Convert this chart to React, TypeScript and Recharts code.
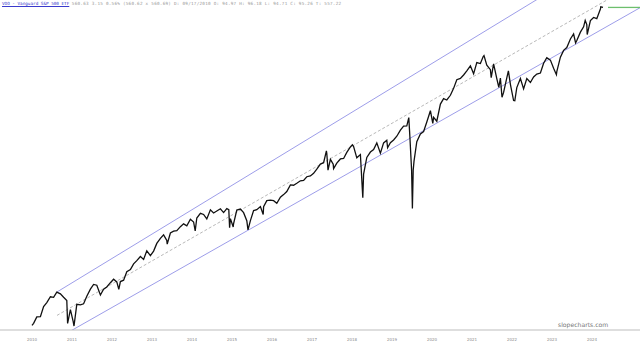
import React from "react";
import { LineChart, Line, XAxis, YAxis } from "recharts";

// VOO daily chart (dividend adjusted), roughly monthly plus swing highs/lows
const priceSeries: [number, number][] = [
  [2010.71, 79.0], [2010.75, 80.0], [2010.83, 83.2], [2010.92, 83.4], [2011.0, 88.7],
  [2011.08, 90.9], [2011.17, 94.2], [2011.25, 93.9], [2011.33, 96.9], [2011.42, 95.9], [2011.5, 93.9],
  [2011.58, 92.1], [2011.6, 80.0], [2011.67, 87.0], [2011.74, 80.9], [2011.76, 78.7], [2011.83, 89.9],
  [2011.92, 89.6], [2012.0, 90.2],
  [2012.08, 94.5], [2012.17, 98.7], [2012.25, 101.6], [2012.33, 101.1], [2012.42, 95.2], [2012.5, 98.7],
  [2012.58, 100.0], [2012.67, 102.7], [2012.75, 104.9], [2012.83, 103.2], [2012.88, 98.6], [2012.92, 103.4],
  [2013.0, 104.3],
  [2013.08, 109.8], [2013.17, 111.3], [2013.25, 115.3], [2013.33, 117.6], [2013.42, 120.6], [2013.5, 118.5],
  [2013.58, 124.9], [2013.67, 121.3], [2013.75, 124.7], [2013.83, 130.7], [2013.92, 134.8], [2014.0, 137.8],
  [2014.08, 133.2], [2014.09, 130.2], [2014.17, 139.4], [2014.25, 140.9], [2014.33, 141.4], [2014.42, 144.9],
  [2014.5, 147.4], [2014.58, 145.7], [2014.67, 151.6], [2014.75, 149.1], [2014.79, 141.1], [2014.83, 152.8],
  [2014.92, 157.3], [2015.0, 156.2],
  [2015.08, 151.9], [2015.17, 160.7], [2015.25, 157.6], [2015.33, 159.5], [2015.42, 161.7], [2015.5, 158.0],
  [2015.58, 161.8], [2015.63, 160.8], [2015.65, 144.0], [2015.67, 152.2], [2015.74, 144.6], [2015.75, 147.7],
  [2015.83, 160.5], [2015.92, 161.4], [2016.0, 157.9],
  [2016.08, 150.3], [2016.11, 142.0], [2016.17, 150.4], [2016.25, 159.9], [2016.33, 160.8], [2016.42, 163.9],
  [2016.49, 156.1], [2016.5, 163.8], [2016.58, 170.0], [2016.67, 170.5], [2016.75, 169.9], [2016.83, 167.3],
  [2016.92, 173.7], [2017.0, 176.4],
  [2017.08, 179.8], [2017.17, 187.3], [2017.25, 186.9], [2017.33, 189.1], [2017.42, 192.0], [2017.5, 192.6],
  [2017.58, 196.9], [2017.67, 197.8], [2017.75, 201.1], [2017.83, 206.2], [2017.92, 212.8], [2018.0, 214.6],
  [2018.07, 230.7], [2018.08, 227.1], [2018.11, 205.0], [2018.17, 219.1], [2018.24, 212.7], [2018.25, 207.0],
  [2018.33, 214.1], [2018.42, 219.6], [2018.5, 220.2], [2018.58, 228.7], [2018.67, 236.4], [2018.72, 239.5],
  [2018.75, 237.1], [2018.83, 221.1], [2018.92, 225.6], [2018.98, 173.0], [2019.0, 200.0],
  [2019.08, 221.6], [2019.17, 229.1], [2019.25, 232.6], [2019.33, 242.4], [2019.42, 227.4], [2019.5, 242.4],
  [2019.58, 246.4], [2019.6, 235.3], [2019.67, 242.7], [2019.75, 246.8], [2019.83, 252.5], [2019.92, 262.0],
  [2020.0, 268.8],
  [2020.08, 269.0], [2020.13, 283.2], [2020.16, 248.2], [2020.2, 205.0], [2020.22, 162.0], [2020.24, 205.0],
  [2020.26, 216.3], [2020.33, 244.1],
  [2020.42, 256.1], [2020.5, 259.9], [2020.58, 275.6], [2020.67, 295.4], [2020.73, 273.2], [2020.75, 283.6],
  [2020.83, 276.9], [2020.92, 307.6], [2021.0, 318.2],
  [2021.08, 315.4], [2021.17, 324.7], [2021.25, 338.8], [2021.33, 357.4], [2021.42, 360.2], [2021.5, 367.8],
  [2021.58, 377.3], [2021.67, 389.2], [2021.75, 370.4], [2021.83, 397.1], [2021.92, 394.6], [2021.99, 411.8],
  [2022.01, 414.2],
  [2022.08, 390.9], [2022.17, 379.9], [2022.19, 362.0], [2022.25, 393.6], [2022.33, 359.7], [2022.38, 340.7],
  [2022.42, 361.1], [2022.46, 320.9], [2022.5, 330.5], [2022.58, 361.5], [2022.62, 377.3], [2022.67, 347.3],
  [2022.75, 314.4], [2022.78, 314.0], [2022.83, 340.5], [2022.92, 360.0], [2023.0, 337.8],
  [2023.08, 359.8], [2023.17, 351.3], [2023.25, 363.5], [2023.33, 369.8], [2023.42, 372.3], [2023.5, 395.4],
  [2023.58, 409.0], [2023.67, 403.0], [2023.75, 383.1], [2023.82, 368.6], [2023.83, 375.4], [2023.92, 410.3],
  [2024.0, 427.9],
  [2024.08, 435.4], [2024.17, 458.8], [2024.25, 473.1], [2024.3, 448.2], [2024.33, 454.7], [2024.42, 478.5],
  [2024.5, 494.5], [2024.54, 514.3], [2024.58, 501.2], [2024.59, 471.4], [2024.67, 513.8], [2024.75, 523.8],
  [2024.83, 519.8], [2024.92, 551.7], [2024.93, 559.0], [2024.985, 557.0],
];

// regression channel drawn on the chart (start / end points)
const upperChannel: [number, number][] = [[2011.335, 97.0], [2025.91, 860]];
const midChannel: [number, number][] = [[2011.335, 84.0], [2025.91, 655]];
const lowerChannel: [number, number][] = [[2011.335, 72.8], [2025.91, 556]];
const lastPrice: [number, number][] = [[2025.11, 557.0], [2025.91, 557.0]];

const yearLabels = ["2010", "2011", "2012", "2013", "2014", "2015", "2016", "2017", "2018", "2019", "2020", "2021", "2022", "2023", "2024"];
const firstBar = 2010.71;
const priceTicks = [100, 150, 200, 250, 300, 350, 400, 450, 500];

const toRows = (pts: [number, number][]) => pts.map(([d, p]) => ({ d, p }));

const headerLink = "VOO - Vanguard S&P 500 ETF";
const headerText = "560.63 3.15 0.56% (560.62 x 560.69) D: 09/17/2010 O: 94.97 H: 96.18 L: 94.71 C: 95.26 T: 557.22";

export default function App() {
  const xTicks = yearLabels.map((_, i) => firstBar + i);

  return (
    <div style={{ position: "absolute", left: 0, top: 0, width: 640, height: 341, background: "#fff", overflow: "hidden" }}>
      <LineChart width={640} height={341} margin={{ top: 0, right: 0, bottom: 0, left: 0 }}>
        <XAxis
          type="number"
          dataKey="d"
          domain={[2009.91, 2025.91]}
          allowDataOverflow
          ticks={xTicks}
          tickFormatter={(v: number) => String(Math.floor(v))}
          height={11}
          tickLine={false}
          axisLine={{ stroke: "#bdbdbd", strokeWidth: 1 }}
          tick={{ fontSize: 4, fill: "#8a8a8a", fontFamily: "DejaVu Sans" }}
          tickMargin={2}
        />
        <YAxis
          type="number"
          scale="log"
          orientation="right"
          mirror
          width={0}
          domain={[76.8, 583]}
          allowDataOverflow
          ticks={priceTicks}
          tickLine={false}
          axisLine={false}
          tick={{ fontSize: 4, fill: "#8a8a8a", fontFamily: "DejaVu Sans" }}
          tickMargin={3}
        />
        <Line data={toRows(upperChannel)} dataKey="p" stroke="#7373e0" strokeWidth={0.7} dot={false} activeDot={false} isAnimationActive={false} />
        <Line data={toRows(midChannel)} dataKey="p" stroke="#9a9a9a" strokeWidth={0.7} strokeDasharray="3 2" dot={false} activeDot={false} isAnimationActive={false} />
        <Line data={toRows(lowerChannel)} dataKey="p" stroke="#7373e0" strokeWidth={0.7} dot={false} activeDot={false} isAnimationActive={false} />
        <Line data={toRows(priceSeries)} dataKey="p" stroke="#111" strokeWidth={1.3} dot={false} activeDot={false} isAnimationActive={false} />
        <Line data={toRows(lastPrice)} dataKey="p" stroke="#6dbf6d" strokeWidth={1.3} dot={false} activeDot={false} isAnimationActive={false} />
      </LineChart>
      <div style={{ position: "absolute", left: 2, top: 2, fontFamily: "DejaVu Sans Mono", fontSize: 4.3, color: "#999", whiteSpace: "nowrap", lineHeight: 1 }}>
        <span style={{ color: "#3a3acc", textDecoration: "underline" }}>{headerLink}</span>{" "}
        <span style={{ letterSpacing: 0.25 }}>{headerText}</span>
      </div>
      <div style={{ position: "absolute", left: 558, top: 322, fontFamily: "DejaVu Sans", fontSize: 6.1, color: "#777", whiteSpace: "nowrap", lineHeight: 1 }}>
        slopecharts.com
      </div>
    </div>
  );
}
